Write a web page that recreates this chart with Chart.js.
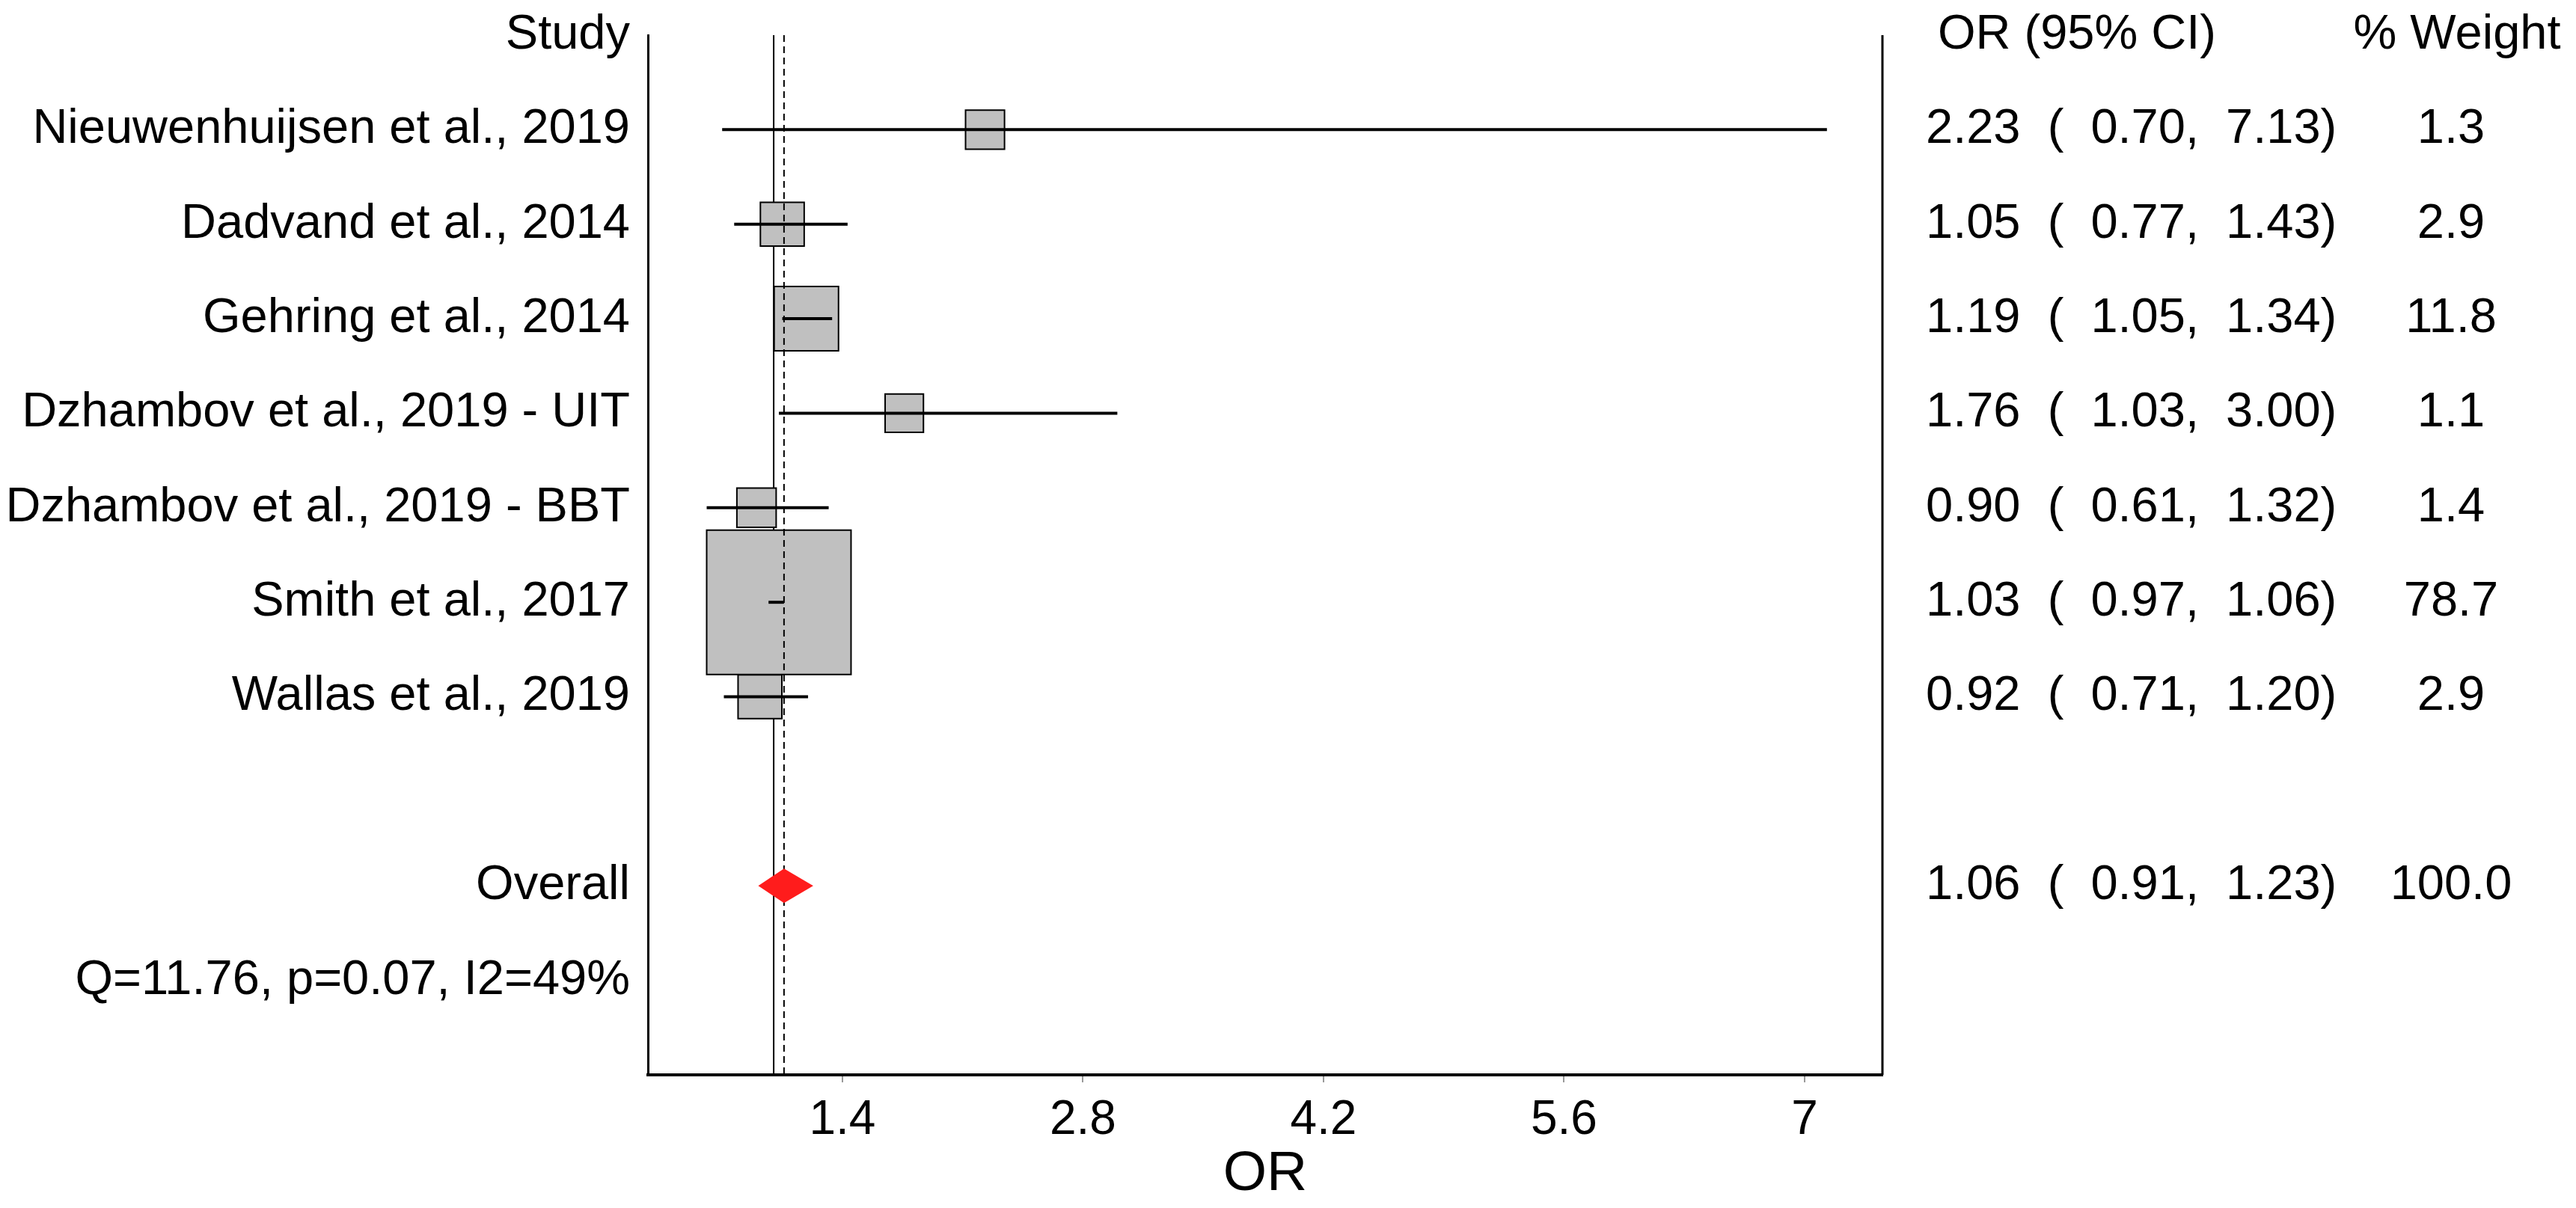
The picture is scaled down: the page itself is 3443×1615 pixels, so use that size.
<!DOCTYPE html>
<html>
<head>
<meta charset="utf-8">
<script src="https://cdn.jsdelivr.net/npm/chart.js@4/dist/chart.umd.min.js"></script>
<style>
  body { margin: 0; background: #fff; }
  #wrap { width: 3443px; height: 1615px; }
</style>
</head>
<body>
<div id="wrap"><canvas id="forestChart"></canvas></div>
<script>
  const studies = [
    "Nieuwenhuijsen et al., 2019",
    "Dadvand et al., 2014",
    "Gehring et al., 2014",
    "Dzhambov et al., 2019 - UIT",
    "Dzhambov et al., 2019 - BBT",
    "Smith et al., 2017",
    "Wallas et al., 2019"
  ];
  const orValues = [2.23, 1.05, 1.19, 1.76, 0.90, 1.03, 0.92];
  const ciLow = [0.70, 0.77, 1.05, 1.03, 0.61, 0.97, 0.71];
  const ciHigh = [7.13, 1.43, 1.34, 3.00, 1.32, 1.06, 1.20];
  const weights = [1.3, 2.9, 11.8, 1.1, 1.4, 78.7, 2.9];

  const overallOR = 1.06;
  const overallLow = 0.91;
  const overallHigh = 1.23;
  const overallWeight = 100.0;
  const heterogeneity = "Q=11.76, p=0.07, I2=49%";
  const nullValue = 1;

  const xTicks = [1.4, 2.8, 4.2, 5.6, 7];

  // rows from top: header, studies, blank, overall, heterogeneity
  const rowLabels = ["Study", ...studies, "", "Overall", heterogeneity];
  const overallRow = studies.length + 2;

  const FONT = "'Liberation Sans', Arial, sans-serif";

  const fmt = (o, l, h) => `${o.toFixed(2)}  (  ${l.toFixed(2)},  ${h.toFixed(2)})`;

  // box side in px grows with study weight
  const boxSide = w => Math.sqrt(2133 + 446 * w);

  const forestPlugin = {
    id: 'forest',
    beforeDatasetsDraw(chart) {
      const { ctx, chartArea, scales: { x } } = chart;
      const px = x.getPixelForValue(nullValue);
      ctx.save();
      ctx.strokeStyle = '#000';
      ctx.lineWidth = 2;
      ctx.beginPath();
      ctx.moveTo(px, chartArea.top);
      ctx.lineTo(px, chartArea.bottom);
      ctx.stroke();
      ctx.restore();
    },
    afterDatasetsDraw(chart) {
      const { ctx, chartArea, scales: { x, y } } = chart;
      const px = x.getPixelForValue(overallOR);
      ctx.save();
      ctx.strokeStyle = '#000';
      ctx.lineWidth = 2;
      ctx.setLineDash([9, 6]);
      ctx.beginPath();
      ctx.moveTo(px, chartArea.top);
      ctx.lineTo(px, chartArea.bottom);
      ctx.stroke();
      ctx.setLineDash([]);

      // overall diamond
      const cy = y.getPixelForValue(overallRow);
      ctx.fillStyle = '#ff1c1c';
      ctx.beginPath();
      ctx.moveTo(x.getPixelForValue(overallLow), cy);
      ctx.lineTo(px, cy - 23);
      ctx.lineTo(x.getPixelForValue(overallHigh), cy);
      ctx.lineTo(px, cy + 23);
      ctx.closePath();
      ctx.fill();
      ctx.restore();
    },
    afterDraw(chart) {
      const { ctx, chartArea, scales: { y } } = chart;
      ctx.save();
      ctx.strokeStyle = '#000';
      ctx.lineWidth = 3;
      ctx.beginPath();
      ctx.moveTo(chartArea.right, chartArea.top);
      ctx.lineTo(chartArea.right, chartArea.bottom);
      ctx.stroke();

      ctx.fillStyle = '#000';
      ctx.font = `65px ${FONT}`;
      ctx.textBaseline = 'middle';
      const orX = chartArea.right + 58;
      const wX = chartArea.right + 760;

      ctx.textAlign = 'left';
      ctx.fillText("OR (95% CI)", orX + 16, y.getPixelForValue(0));
      ctx.textAlign = 'center';
      ctx.fillText("% Weight", wX + 8, y.getPixelForValue(0));

      studies.forEach((s, i) => {
        const py = y.getPixelForValue(i + 1);
        ctx.textAlign = 'left';
        ctx.fillText(fmt(orValues[i], ciLow[i], ciHigh[i]), orX, py);
        ctx.textAlign = 'center';
        ctx.fillText(weights[i].toFixed(1), wX, py);
      });

      const oy = y.getPixelForValue(overallRow);
      ctx.textAlign = 'left';
      ctx.fillText(fmt(overallOR, overallLow, overallHigh), orX, oy);
      ctx.textAlign = 'center';
      ctx.fillText(overallWeight.toFixed(1), wX, oy);
      ctx.restore();
    }
  };

  const ciDatasets = studies.map((s, i) => ({
    type: 'line',
    label: s,
    data: [{ x: ciLow[i], y: i + 1 }, { x: ciHigh[i], y: i + 1 }],
    borderColor: '#000',
    borderWidth: 4,
    pointRadius: 0,
    fill: false,
    order: 1
  }));

  const ctx = document.getElementById('forestChart').getContext('2d');
  new Chart(ctx, {
    type: 'scatter',
    data: {
      datasets: [
        ...ciDatasets,
        {
          label: 'OR',
          data: orValues.map((v, i) => ({ x: v, y: i + 1 })),
          pointStyle: 'rect',
          pointRadius: c => boxSide(weights[c.dataIndex]) / Math.SQRT2,
          backgroundColor: '#c0c0c0',
          borderColor: '#000',
          borderWidth: 2,
          order: 2
        }
      ]
    },
    options: {
      responsive: true,
      maintainAspectRatio: false,
      animation: false,
      devicePixelRatio: 1,
      layout: { autoPadding: false, padding: { left: 0, right: 927, top: 47, bottom: 0 } },
      plugins: {
        legend: { display: false },
        tooltip: { enabled: false }
      },
      scales: {
        x: {
          type: 'linear',
          min: 0.268,
          max: 7.453,
          afterBuildTicks: scale => { scale.ticks = xTicks.map(v => ({ value: v })); },
          afterFit: scale => {
            scale.height = 178;
            scale.paddingLeft = 0;
            scale.paddingRight = 0;
          },
          grid: { drawOnChartArea: false, drawTicks: true, tickLength: 10, color: '#999', lineWidth: 2 },
          border: { display: true, color: '#000', width: 4 },
          ticks: {
            autoSkip: false,
            maxRotation: 0,
            padding: 13,
            color: '#000',
            font: { family: FONT, size: 64 },
            callback: v => String(v)
          },
          title: {
            display: true,
            text: 'OR',
            color: '#000',
            font: { family: FONT, size: 75 },
            padding: { top: 0, bottom: 0 }
          }
        },
        y: {
          type: 'linear',
          reverse: true,
          min: 0,
          max: 11,
          afterBuildTicks: scale => { scale.ticks = rowLabels.map((l, i) => ({ value: i })); },
          afterFit: scale => {
            scale.width = 866;
            scale.paddingTop = 0;
            scale.paddingBottom = 0;
          },
          grid: { display: false, drawTicks: false },
          border: { display: true, color: '#000', width: 3 },
          ticks: {
            autoSkip: false,
            padding: 24,
            color: '#000',
            font: { family: FONT, size: 65 },
            callback: (v, i) => rowLabels[i]
          }
        }
      }
    },
    plugins: [forestPlugin]
  });
</script>
</body>
</html>
